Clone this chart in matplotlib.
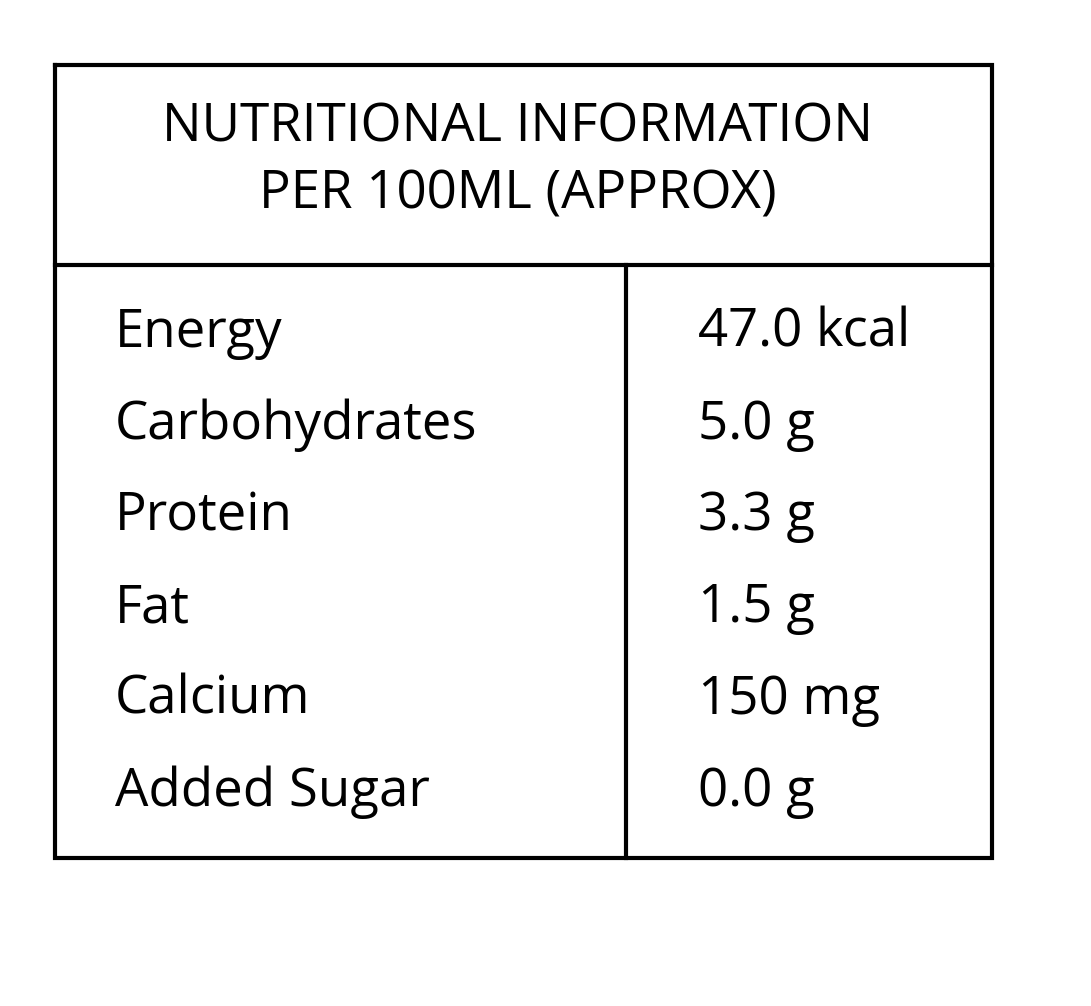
import matplotlib
matplotlib.use('Agg')
import matplotlib.pyplot as plt

title_lines = ["NUTRITIONAL INFORMATION", "PER 100ML (APPROX)"]
nutrients = ["Energy", "Carbohydrates", "Protein", "Fat", "Calcium", "Added Sugar"]
amounts = ["47.0 kcal", "5.0 g", "3.3 g", "1.5 g", "150 mg", "0.0 g"]

fig = plt.figure(figsize=(10.91, 10.06), dpi=100)
ax = fig.add_axes([0, 0, 1, 1])
ax.set_xlim(0, 1091)
ax.set_ylim(1006, 0)
ax.axis('off')

lw = 3
left, right, top, bottom = 55, 992, 65, 858
head, split = 265, 626
ax.plot([left, right, right, left, left], [top, top, bottom, bottom, top], color='black', lw=lw, solid_joinstyle='miter')
ax.plot([left, right], [head, head], color='black', lw=lw)
ax.plot([split, split], [head, bottom], color='black', lw=lw)

font = "Open Sans"
for i, t in enumerate(title_lines):
    ax.text(518, 128 + i * 67, t, ha='center', va='center', fontsize=38, family=font)

row_y0, row_step = 333, 91.8
for i, (n, a) in enumerate(zip(nutrients, amounts)):
    y = row_y0 + i * row_step
    ax.text(115, y, n, ha='left', va='center', fontsize=38, family=font)
    ax.text(698, y, a, ha='left', va='center', fontsize=38, family=font)

fig.savefig("out.png", dpi=100)
